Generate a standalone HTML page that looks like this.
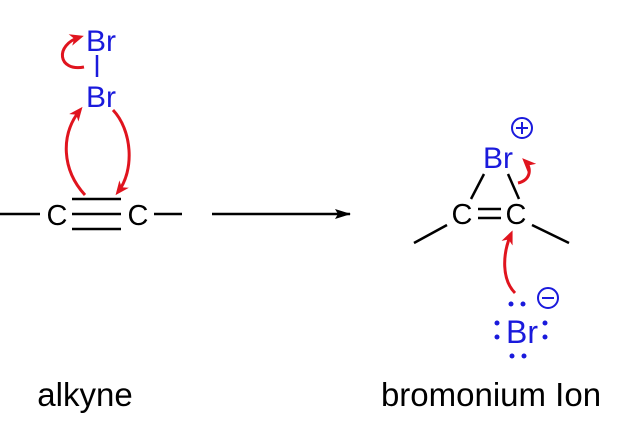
<!DOCTYPE html>
<html><head><style>
html,body{margin:0;padding:0;background:#fff;}
svg{display:block;}
text{font-family:"Liberation Sans",sans-serif;}
</style></head><body>
<svg width="624" height="424" viewBox="0 0 624 424" xmlns="http://www.w3.org/2000/svg">
<defs>
<marker id="ah" markerWidth="14" markerHeight="12" refX="10" refY="6" orient="auto" markerUnits="userSpaceOnUse">
<path d="M0,0 L14,6 L0,12 L4,6 z" fill="#e0141e"/>
</marker>
<marker id="bh" markerWidth="16" markerHeight="10" refX="15" refY="5" orient="auto" markerUnits="userSpaceOnUse">
<path d="M0,0 L16,5 L0,10 L3,5 z" fill="#000"/>
</marker>
</defs>
<g fill="#1a1adc" font-size="30">
<text x="101" y="51" text-anchor="middle">Br</text>
<text x="101" y="107" text-anchor="middle">Br</text>
</g>
<line x1="97" y1="55" x2="97" y2="77" stroke="#1a1adc" stroke-width="2.5"/>
<g font-size="29" fill="#000">
<text x="57" y="225" text-anchor="middle">C</text>
<text x="138" y="225" text-anchor="middle">C</text>
</g>
<g stroke="#000" stroke-width="2.5">
<line x1="0" y1="214" x2="40" y2="214"/>
<line x1="154" y1="214" x2="182" y2="214"/>
<line x1="72" y1="199" x2="121" y2="199"/>
<line x1="72" y1="214" x2="121" y2="214"/>
<line x1="72" y1="229" x2="121" y2="229"/>
<line x1="212" y1="214" x2="350" y2="214" marker-end="url(#bh)"/>
</g>
<g stroke="#e0141e" stroke-width="3" fill="none">
<path d="M84,67 C58,72 54,45 80,37" marker-end="url(#ah)"/>
<path d="M85,195 C62,170 60,135 80,110" marker-end="url(#ah)"/>
<path d="M113,110 C132,130 135,170 118,192" marker-end="url(#ah)"/>
</g>
<text x="498" y="168" text-anchor="middle" fill="#1a1adc" font-size="30">Br</text>
<circle cx="522" cy="128" r="10" fill="none" stroke="#1a1adc" stroke-width="2"/>
<line x1="516" y1="128" x2="528" y2="128" stroke="#1a1adc" stroke-width="2"/>
<line x1="522" y1="122" x2="522" y2="134" stroke="#1a1adc" stroke-width="2"/>
<g font-size="29" fill="#000">
<text x="462" y="224" text-anchor="middle">C</text>
<text x="516" y="224" text-anchor="middle">C</text>
</g>
<g stroke="#000" stroke-width="2.5">
<line x1="478" y1="209" x2="501" y2="209"/>
<line x1="478" y1="218" x2="501" y2="218"/>
<line x1="447" y1="225" x2="414" y2="243"/>
<line x1="532" y1="225" x2="569" y2="243"/>
<line x1="484" y1="174" x2="471" y2="199"/>
<line x1="508" y1="174" x2="519" y2="199"/>
</g>
<g stroke="#e0141e" stroke-width="3" fill="none">
<path d="M518,183 C531,180 532,168 525,161" marker-end="url(#ah)"/>
<path d="M515,293 C502,280 502,255 511,234" marker-end="url(#ah)"/>
</g>
<text x="522" y="343" text-anchor="middle" fill="#1a1adc" font-size="32">Br</text>
<circle cx="548" cy="298" r="10" fill="none" stroke="#1a1adc" stroke-width="2"/>
<line x1="542" y1="298" x2="554" y2="298" stroke="#1a1adc" stroke-width="2"/>
<g fill="#1a1adc">
<circle cx="511" cy="304" r="2.5"/><circle cx="523" cy="304" r="2.5"/>
<circle cx="497" cy="323" r="2.5"/><circle cx="497" cy="337" r="2.5"/>
<circle cx="545" cy="323" r="2.5"/><circle cx="545" cy="337" r="2.5"/>
<circle cx="512" cy="356" r="2.5"/><circle cx="524" cy="356" r="2.5"/>
</g>
<g font-size="33" fill="#000">
<text x="85" y="406" text-anchor="middle">alkyne</text>
<text x="491" y="406" text-anchor="middle">bromonium Ion</text>
</g>
</svg>
</body></html>
